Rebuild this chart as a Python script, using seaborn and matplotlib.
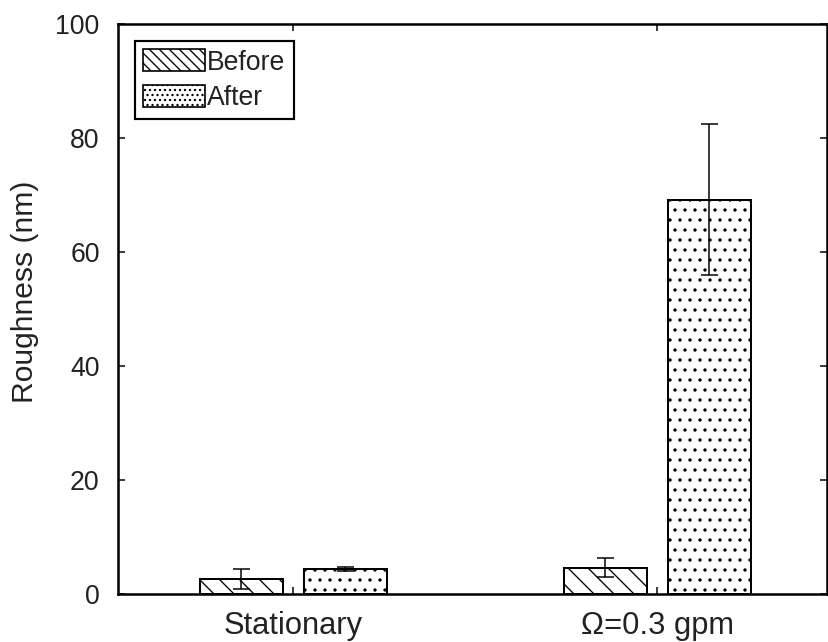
import matplotlib
matplotlib.use("Agg")
import matplotlib.pyplot as plt
from matplotlib.patches import Patch
import seaborn as sns
import pandas as pd

# Surface roughness measured before and after each test condition
conditions = ["Stationary", "Ω=0.3 gpm"]
phases = ["Before", "After"]
before_mean = [2.6, 4.6]
after_mean = [4.4, 69.2]
before_err = [1.8, 1.7]
after_err = [0.3, 13.3]
y_ticks = [0, 20, 40, 60, 80, 100]

df = pd.DataFrame({
    "condition": conditions * 2,
    "phase": [phases[0]] * 2 + [phases[1]] * 2,
    "roughness": before_mean + after_mean,
    "err": before_err + after_err,
})

sns.set_theme(style="white")
plt.rcParams["font.family"] = ["Liberation Sans", "DejaVu Sans"]
plt.rcParams["hatch.linewidth"] = 0.8
plt.rcParams["hatch.color"] = "black"

DPI = 120
fig = plt.figure(figsize=(828 / DPI, 642 / DPI), dpi=DPI)
ax = fig.add_axes([0.1425, 0.0748, 0.8563, 0.8878])

sns.barplot(
    data=df, x="condition", y="roughness", hue="phase",
    order=conditions, hue_order=phases,
    palette=["white", "white"], edgecolor="black", linewidth=1.2,
    width=0.572, gap=0.2, errorbar=None, legend=False, ax=ax,
)

hatches = ["\\\\", ".."]
for container, hatch, phase in zip(ax.containers, hatches, phases):
    sub = df[df["phase"] == phase].set_index("condition").loc[conditions]
    xs = []
    for bar in container.patches:
        bar.set_hatch(hatch)
        bar.set_facecolor("white")
        bar.set_edgecolor("black")
        xs.append(bar.get_x() + bar.get_width() / 2)
    ax.errorbar(xs, sub["roughness"].values, yerr=sub["err"].values,
                fmt="none", ecolor="black", elinewidth=0.9,
                capsize=5.1, capthick=0.9, zorder=5)

ax.set_xlim(-0.482, 1.466)
ax.set_ylim(0, 100)
ax.set_yticks(y_ticks)
ax.set_xlabel("")
ax.set_ylabel("Roughness (nm)", fontsize=18, color="#222222")
ax.yaxis.set_label_coords(-0.112, 0.53)

ax.tick_params(axis="both", which="both", direction="in", length=4, width=0.9,
               top=True, right=True, bottom=True, left=True,
               labelcolor="#222222", color="black")
ax.tick_params(axis="y", labelsize=16, pad=11)
ax.tick_params(axis="x", labelsize=18.5, pad=10)

for spine in ax.spines.values():
    spine.set_visible(True)
    spine.set_color("black")
    spine.set_linewidth(1.5)

handles = [Patch(facecolor="white", edgecolor="black", hatch=h, linewidth=1.0)
           for h in ["\\\\\\\\", "...."]]
leg = ax.legend(handles, phases, loc="upper left", fontsize=16,
                frameon=True, fancybox=False, edgecolor="black",
                framealpha=1, handlelength=2.3, handleheight=0.9,
                handletextpad=0.1, labelspacing=0.35, borderpad=0.3,
                borderaxespad=0.65)
leg.get_frame().set_linewidth(1.3)
for t in leg.get_texts():
    t.set_color("#222222")

fig.savefig("out.png", dpi=DPI)
